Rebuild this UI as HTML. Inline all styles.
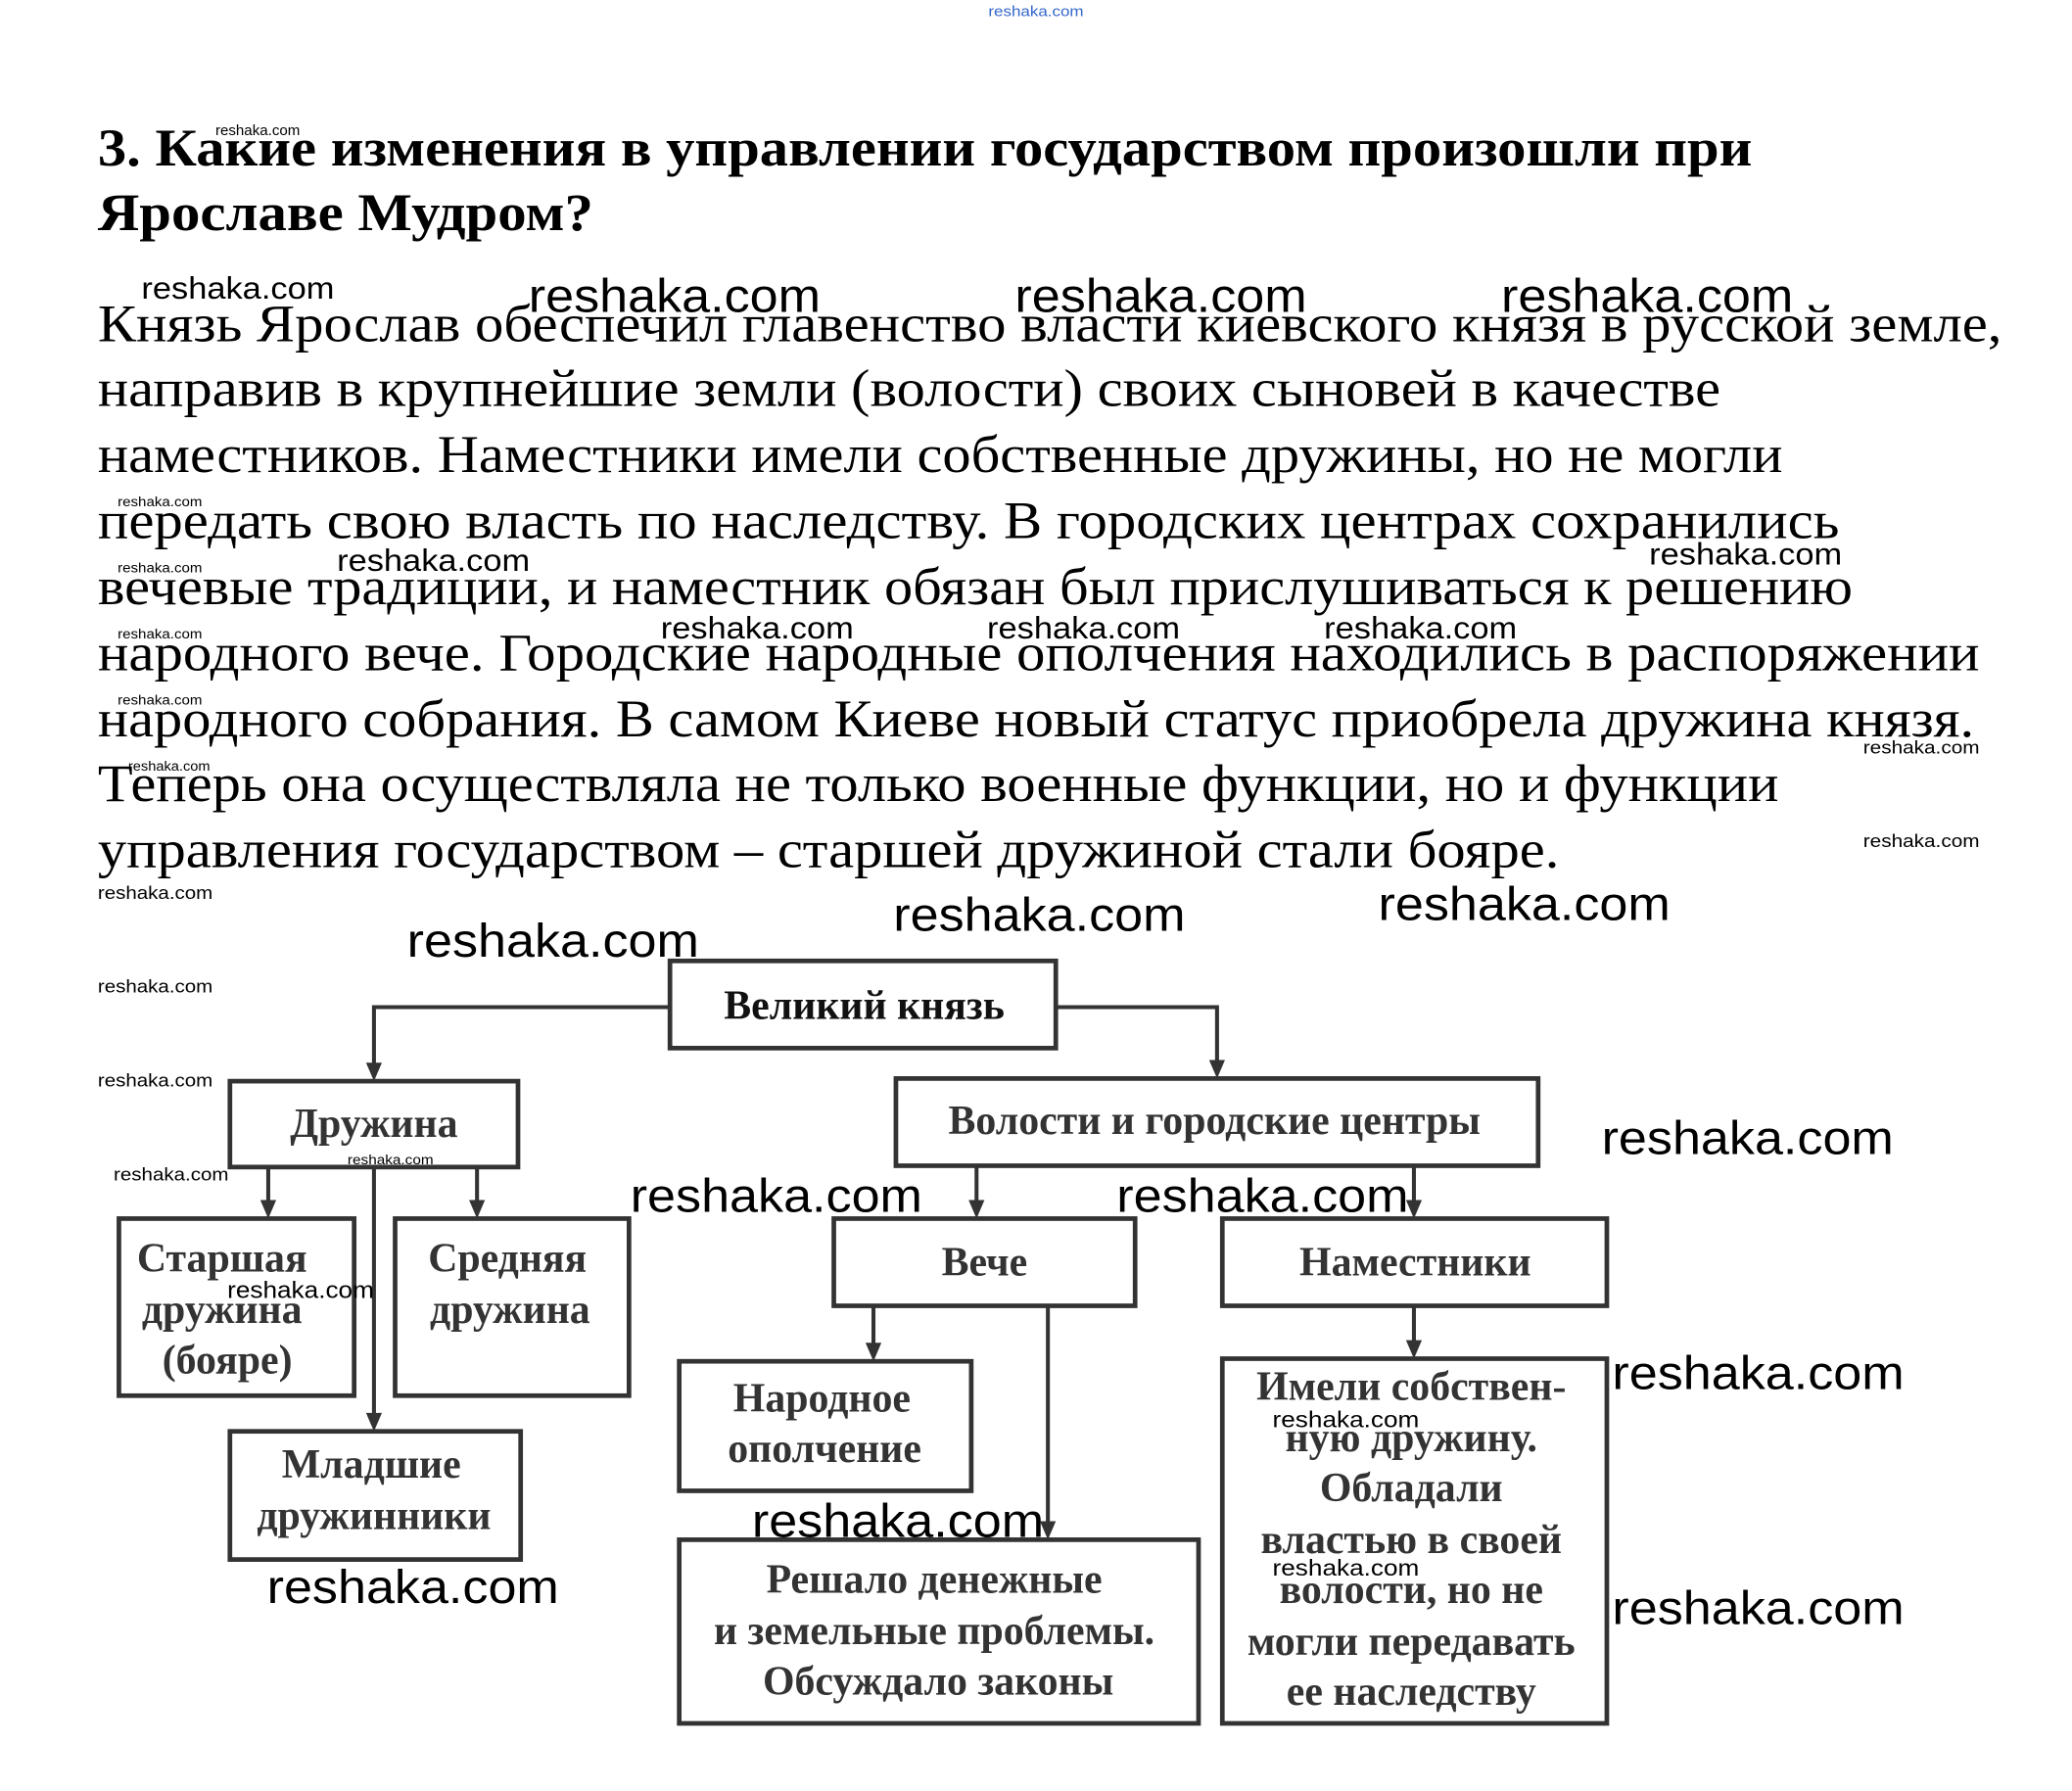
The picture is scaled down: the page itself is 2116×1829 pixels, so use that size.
<!DOCTYPE html>
<html><head><meta charset="utf-8"><style>
html,body{margin:0;padding:0;background:#fff;}
svg{display:block;}
.t{font-family:"Liberation Serif",serif;font-size:40px;fill:#000;}
.h{font-family:"Liberation Serif",serif;font-size:40px;font-weight:bold;fill:#000;}
.d{font-family:"Liberation Serif",serif;font-size:31px;fill:#333;font-weight:bold;}
.w{font-family:"Liberation Sans",sans-serif;fill:#000;}
.b{fill:#fff;stroke:#333;stroke-width:3.5;}
.l{stroke:#333;stroke-width:3;fill:none;}
.a{fill:#333;}
</style></head><body>
<svg width="2116" height="1829" viewBox="0 0 1568 1355" xmlns="http://www.w3.org/2000/svg">
<text class="w" x="748" y="12" font-size="11" style="fill:#36c" textLength="72" lengthAdjust="spacingAndGlyphs">reshaka.com</text>
<text class="h" x="74" y="125" textLength="1252" lengthAdjust="spacingAndGlyphs">3. Какие изменения в управлении государством произошли при</text>
<text class="h" x="74" y="174" textLength="375" lengthAdjust="spacingAndGlyphs">Ярославе Мудром?</text>
<g class="t">
<text x="74" y="258" textLength="1441" lengthAdjust="spacingAndGlyphs">Князь Ярослав обеспечил главенство власти киевского князя в русской земле,</text>
<text x="74" y="307" textLength="1228" lengthAdjust="spacingAndGlyphs">направив в крупнейшие земли (волости) своих сыновей в качестве</text>
<text x="74" y="357" textLength="1275" lengthAdjust="spacingAndGlyphs">наместников. Наместники имели собственные дружины, но не могли</text>
<text x="74" y="407" textLength="1318" lengthAdjust="spacingAndGlyphs">передать свою власть по наследству. В городских центрах сохранились</text>
<text x="74" y="457" textLength="1328" lengthAdjust="spacingAndGlyphs">вечевые традиции, и наместник обязан был прислушиваться к решению</text>
<text x="74" y="507" textLength="1424" lengthAdjust="spacingAndGlyphs">народного вече. Городские народные ополчения находились в распоряжении</text>
<text x="74" y="557" textLength="1420" lengthAdjust="spacingAndGlyphs">народного собрания. В самом Киеве новый статус приобрела дружина князя.</text>
<text x="74" y="606" textLength="1272" lengthAdjust="spacingAndGlyphs">Теперь она осуществляла не только военные функции, но и функции</text>
<text x="74" y="656" textLength="1106" lengthAdjust="spacingAndGlyphs">управления государством – старшей дружиной стали бояре.</text>
</g>
<polyline class="l" points="507,762 283,762 283,808"/>
<polygon class="a" points="277,804 289,804 283,818"/>
<polyline class="l" points="799,762 921,762 921,806"/>
<polygon class="a" points="915,802 927,802 921,816"/>
<line class="l" x1="203" y1="883" x2="203" y2="912"/><polygon class="a" points="197,908 209,908 203,922"/>
<line class="l" x1="361" y1="883" x2="361" y2="912"/><polygon class="a" points="355,908 367,908 361,922"/>
<line class="l" x1="283" y1="883" x2="283" y2="1073"/><polygon class="a" points="277,1069 289,1069 283,1083"/>
<line class="l" x1="739" y1="882" x2="739" y2="912"/><polygon class="a" points="733,908 745,908 739,922"/>
<line class="l" x1="1070" y1="882" x2="1070" y2="912"/><polygon class="a" points="1064,908 1076,908 1070,922"/>
<line class="l" x1="661" y1="988" x2="661" y2="1020"/><polygon class="a" points="655,1016 667,1016 661,1030"/>
<line class="l" x1="793" y1="988" x2="793" y2="1155"/><polygon class="a" points="787,1151 799,1151 793,1165"/>
<line class="l" x1="1070" y1="988" x2="1070" y2="1018"/><polygon class="a" points="1064,1014 1076,1014 1070,1028"/>
<rect class="b" x="507" y="727" width="292" height="66"/>
<rect class="b" x="174" y="818" width="218" height="65"/>
<rect class="b" x="678" y="816" width="486" height="66"/>
<rect class="b" x="90" y="922" width="178" height="134"/>
<rect class="b" x="299" y="922" width="177" height="134"/>
<rect class="b" x="174" y="1083" width="220" height="97"/>
<rect class="b" x="631" y="922" width="228" height="66"/>
<rect class="b" x="925" y="922" width="291" height="66"/>
<rect class="b" x="514" y="1030" width="221" height="98"/>
<rect class="b" x="514" y="1165" width="393" height="139"/>
<rect class="b" x="925" y="1028" width="291" height="276"/>
<g class="d" text-anchor="middle">
<text x="654" y="771" style="font-weight:900;fill:#111">Великий князь</text>
<text x="283" y="860">Дружина</text>
<text x="919" y="858">Волости и городские центры</text>
<text x="168" y="962">Старшая</text><text x="168" y="1001">дружина</text><text x="172" y="1039">(бояре)</text>
<text x="384" y="962">Средняя</text><text x="386" y="1001">дружина</text>
<text x="281" y="1118">Младшие</text><text x="283" y="1157">дружинники</text>
<text x="745" y="965">Вече</text>
<text x="1071" y="965">Наместники</text>
<text x="622" y="1068">Народное</text><text x="624" y="1106">ополчение</text>
<text x="707" y="1205">Решало денежные</text><text x="707" y="1244">и земельные проблемы.</text><text x="710" y="1282">Обсуждало законы</text>
<text x="1068" y="1059">Имели собствен-</text><text x="1068" y="1098">ную дружину.</text><text x="1068" y="1136">Обладали</text><text x="1068" y="1175">властью в своей</text><text x="1068" y="1213">волости, но не</text><text x="1068" y="1252">могли передавать</text><text x="1068" y="1290">ее наследству</text>
</g>
<g class="w" lengthAdjust="spacingAndGlyphs">
<text x="163" y="102" font-size="11" textLength="64" lengthAdjust="spacingAndGlyphs">reshaka.com</text>
<text x="107" y="226" font-size="23" textLength="146" lengthAdjust="spacingAndGlyphs">reshaka.com</text>
<text x="400" y="236" font-size="36" textLength="221" lengthAdjust="spacingAndGlyphs">reshaka.com</text>
<text x="768" y="236" font-size="36" textLength="221" lengthAdjust="spacingAndGlyphs">reshaka.com</text>
<text x="1136" y="236" font-size="36" textLength="221" lengthAdjust="spacingAndGlyphs">reshaka.com</text>
<text x="89" y="383" font-size="10" textLength="64" lengthAdjust="spacingAndGlyphs">reshaka.com</text>
<text x="255" y="432" font-size="23" textLength="146" lengthAdjust="spacingAndGlyphs">reshaka.com</text>
<text x="1248" y="427" font-size="23" textLength="146" lengthAdjust="spacingAndGlyphs">reshaka.com</text>
<text x="89" y="433" font-size="10" textLength="64" lengthAdjust="spacingAndGlyphs">reshaka.com</text>
<text x="500" y="483" font-size="23" textLength="146" lengthAdjust="spacingAndGlyphs">reshaka.com</text>
<text x="747" y="483" font-size="23" textLength="146" lengthAdjust="spacingAndGlyphs">reshaka.com</text>
<text x="1002" y="483" font-size="23" textLength="146" lengthAdjust="spacingAndGlyphs">reshaka.com</text>
<text x="89" y="483" font-size="10" textLength="64" lengthAdjust="spacingAndGlyphs">reshaka.com</text>
<text x="89" y="533" font-size="10" textLength="64" lengthAdjust="spacingAndGlyphs">reshaka.com</text>
<text x="1410" y="570" font-size="14" textLength="88" lengthAdjust="spacingAndGlyphs">reshaka.com</text>
<text x="97" y="583" font-size="10" textLength="62" lengthAdjust="spacingAndGlyphs">reshaka.com</text>
<text x="1410" y="641" font-size="14" textLength="88" lengthAdjust="spacingAndGlyphs">reshaka.com</text>
<text x="74" y="680" font-size="14" textLength="87" lengthAdjust="spacingAndGlyphs">reshaka.com</text>
<text x="676" y="704" font-size="36" textLength="221" lengthAdjust="spacingAndGlyphs">reshaka.com</text>
<text x="1043" y="696" font-size="36" textLength="221" lengthAdjust="spacingAndGlyphs">reshaka.com</text>
<text x="308" y="724" font-size="36" textLength="221" lengthAdjust="spacingAndGlyphs">reshaka.com</text>
<text x="74" y="751" font-size="14" textLength="87" lengthAdjust="spacingAndGlyphs">reshaka.com</text>
<text x="74" y="822" font-size="14" textLength="87" lengthAdjust="spacingAndGlyphs">reshaka.com</text>
<text x="1212" y="873" font-size="36" textLength="221" lengthAdjust="spacingAndGlyphs">reshaka.com</text>
<text x="86" y="893" font-size="14" textLength="87" lengthAdjust="spacingAndGlyphs">reshaka.com</text>
<text x="263" y="881" font-size="10" textLength="65" lengthAdjust="spacingAndGlyphs">reshaka.com</text>
<text x="477" y="917" font-size="36" textLength="221" lengthAdjust="spacingAndGlyphs">reshaka.com</text>
<text x="845" y="917" font-size="36" textLength="221" lengthAdjust="spacingAndGlyphs">reshaka.com</text>
<text x="172" y="982" font-size="18" textLength="111" lengthAdjust="spacingAndGlyphs">reshaka.com</text>
<text x="1220" y="1051" font-size="36" textLength="221" lengthAdjust="spacingAndGlyphs">reshaka.com</text>
<text x="963" y="1080" font-size="17" textLength="111" lengthAdjust="spacingAndGlyphs">reshaka.com</text>
<text x="569" y="1163" font-size="36" textLength="221" lengthAdjust="spacingAndGlyphs">reshaka.com</text>
<text x="963" y="1192" font-size="17" textLength="111" lengthAdjust="spacingAndGlyphs">reshaka.com</text>
<text x="202" y="1213" font-size="36" textLength="221" lengthAdjust="spacingAndGlyphs">reshaka.com</text>
<text x="1220" y="1229" font-size="36" textLength="221" lengthAdjust="spacingAndGlyphs">reshaka.com</text>
</g>
</svg>
</body></html>
